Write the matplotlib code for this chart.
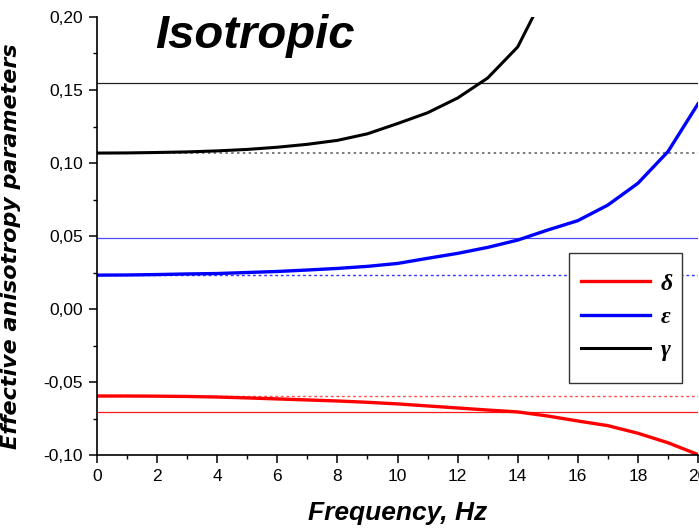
import numpy as np
import matplotlib
matplotlib.use("Agg")
import matplotlib.pyplot as plt
from matplotlib.patches import Rectangle
from matplotlib.ticker import MultipleLocator, FuncFormatter

# frequency samples (Hz)
freq = list(range(21))

# effective anisotropy parameters
delta = [-0.0596, -0.0596, -0.0597, -0.0599, -0.0603, -0.0609, -0.0616, -0.0623,
         -0.0630, -0.0639, -0.0650, -0.0664, -0.0678, -0.0692, -0.0705, -0.0733,
         -0.0767, -0.0799, -0.0851, -0.0916, -0.0997]
epsilon = [0.0232, 0.0233, 0.0236, 0.0240, 0.0243, 0.0250, 0.0257, 0.0267,
           0.0278, 0.0292, 0.0312, 0.0347, 0.0381, 0.0422, 0.0472, 0.0541,
           0.0605, 0.0712, 0.0861, 0.1078, 0.1405]
gamma_f = list(range(16))
gamma = [0.1068, 0.1069, 0.1072, 0.1076, 0.1083, 0.1093, 0.1108, 0.1128,
         0.1155, 0.1200, 0.1270, 0.1344, 0.1445, 0.1582, 0.1795, 0.2200]

# reference levels: low-frequency (dotted) and other (solid)
delta_ref, delta_lf = -0.0705, -0.0596
eps_ref, eps_lf = 0.0486, 0.0233
gamma_ref, gamma_lf = 0.155, 0.1068

labels = ["\u03b4", "\u03b5", "\u03b3"]

fig = plt.figure(figsize=(6.99, 5.32), dpi=100)
ax = fig.add_axes([97 / 699, 77 / 532, 601 / 699, 438 / 532])

# horizontal reference lines
ax.axhline(gamma_ref, color="#222222", lw=0.9)
ax.axhline(gamma_lf, color="#666666", lw=1.2, ls=(0, (1.5, 2)))
ax.axhline(eps_ref, color="#4d4dff", lw=0.9)
ax.axhline(eps_lf, color="#3333ff", lw=1.0, ls=(0, (2, 2)))
ax.axhline(delta_ref, color="#ff1a1a", lw=0.9)
ax.axhline(delta_lf, color="#ff4d4d", lw=1.0, ls=(0, (2, 2)))

ax.plot(freq, delta, color="#ff0000", lw=2.4, label=labels[0])
ax.plot(freq, epsilon, color="#0000ff", lw=2.4, label=labels[1])
ax.plot(gamma_f, gamma, color="#000000", lw=2.2, label=labels[2])

ax.set_xlim(0, 20)
ax.set_ylim(-0.10, 0.20)
ax.xaxis.set_major_locator(MultipleLocator(2))
ax.xaxis.set_minor_locator(MultipleLocator(1))
ax.yaxis.set_major_locator(MultipleLocator(0.05))
ax.yaxis.set_minor_locator(MultipleLocator(0.025))


def comma_fmt(v, pos):
    if abs(v) < 1e-9:
        v = 0.0
    return f"{v:.2f}".replace(".", ",")


ax.yaxis.set_major_formatter(FuncFormatter(comma_fmt))

for s in ["top", "right"]:
    ax.spines[s].set_visible(False)
for s in ["left", "bottom"]:
    ax.spines[s].set_linewidth(1.2)

ax.tick_params(which="major", direction="out", length=6, width=1.1,
               labelsize=12.5, pad=4)
ax.tick_params(which="minor", direction="out", length=3, width=1.0)
for lab in ax.get_xticklabels() + ax.get_yticklabels():
    lab.set_fontfamily("Liberation Sans")

ax.set_xlabel("Frequency, Hz", fontsize=19, fontweight="bold", fontstyle="italic",
              family="Liberation Sans")
ax.xaxis.set_label_coords(0.5, -0.105)
ax.set_ylabel("Effective anisotropy parameters", fontsize=16, fontweight="bold",
              fontstyle="italic", family="DejaVu Sans")
ax.yaxis.set_label_coords(-0.127, 0.477)

ax.text(0.097, 0.929, "Isotropic", transform=ax.transAxes, fontsize=34,
        fontweight="bold", fontstyle="italic", family="Liberation Sans",
        va="baseline", ha="left")

# legend: box drawn separately so its padding matches the original
ax.add_patch(Rectangle((0.785, 0.164), 0.188, 0.297, transform=ax.transAxes,
                       facecolor="white", edgecolor="#333333", lw=1.0, zorder=4))
leg = ax.legend(loc="center left", bbox_to_anchor=(0.805, 0.315), borderaxespad=0,
                handlelength=2.95, handletextpad=0.45, labelspacing=0.49,
                borderpad=0, frameon=False,
                prop={"family": "Liberation Serif", "weight": "bold",
                      "style": "italic", "size": 17})
leg.set_zorder(5)

fig.savefig("out.png", dpi=100)
